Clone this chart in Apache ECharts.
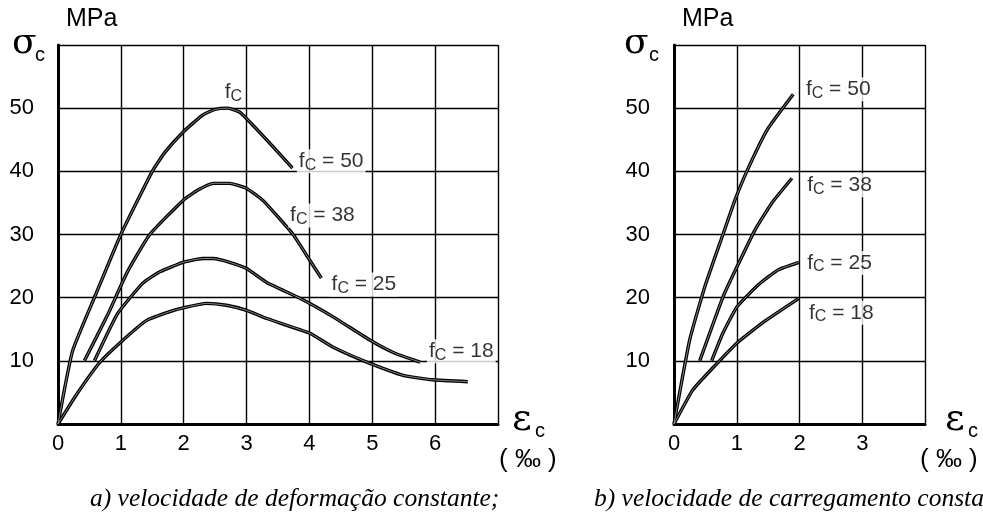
<!DOCTYPE html>
<html>
<head>
<meta charset="utf-8">
<script src="https://cdn.jsdelivr.net/npm/echarts@6/dist/echarts.min.js"></script>
<style>
  html, body { margin: 0; padding: 0; background: #fff; }
  #chart { width: 983px; height: 518px; }
</style>
</head>
<body>
<div id="chart"></div>
<script>
// curves: [strain ‰, stress MPa]
const leftFc50 = [[0,0],[0.23,11.5],[0.6,20.5],[1.0,30],[1.5,40],[1.7,43],[2.0,46.3],[2.3,48.9],[2.5,49.8],[2.7,50],[2.9,49.3],[3.3,45.2],[3.73,40.5]];
const leftFc38 = [[0.42,10],[0.8,17.5],[1.1,24],[1.46,30],[1.99,35.4],[2.22,37],[2.47,38.1],[2.73,38.1],[3.0,37.3],[3.26,35.4],[3.74,30],[4.0,26],[4.19,23.1]];
const leftFc25 = [[0.58,10],[0.95,17.5],[1.35,22.3],[1.62,24.1],[1.99,25.6],[2.3,26.2],[2.47,26.2],[2.73,25.6],[3.0,24.6],[3.32,22.4],[3.85,19.9],[4.37,17],[4.96,13.3],[5.36,11.2],[5.76,9.8]];
const leftFc18 = [[0,0],[0.29,4.6],[0.66,9.7],[0.98,12.8],[1.41,16.4],[1.78,17.8],[2.04,18.5],[2.36,19.1],[2.68,18.8],[3.0,18.0],[3.32,16.7],[4.0,14.4],[4.37,12.2],[4.96,9.6],[5.49,7.7],[5.96,7.0],[6.52,6.7]];

const rightFc50 = [[0,0],[0.25,13.3],[0.49,21.7],[0.78,30],[0.97,35.4],[1.16,40],[1.48,46.5],[1.9,52.2]];
const rightFc38 = [[0.41,10],[0.78,20.1],[1.0,24.8],[1.29,30.7],[1.56,35],[1.88,38.9]];
const rightFc25 = [[0.6,10],[0.78,14.4],[1.0,18.5],[1.34,22],[1.66,24.4],[1.99,25.6]];
const rightFc18 = [[0,0],[0.3,5.4],[0.62,8.9],[1.0,12.8],[1.42,16.1],[1.99,19.9]];

// curve labels: [x, y, text after "fC"]
const leftNotes = [[2.62,52.5,''],[3.8,41.6,' = 50'],[3.66,33,' = 38'],[4.32,22.1,' = 25'],[5.87,11.5,' = 18']];
const rightNotes = [[2.07,53,' = 50'],[2.09,37.8,' = 38'],[2.09,25.5,' = 25'],[2.12,17.6,' = 18']];

const yTicks = [0, 60, 10];   // min, max, step
const leftXMax = 7;
const rightXMax = 4;

const captionA = 'a) velocidade de deformação constante;';
const captionB = 'b) velocidade de carregamento constante.';

const sans = 'Liberation Sans';
const serif = 'Liberation Serif';
const greek = 'DejaVu Serif';

const chart = echarts.init(document.getElementById('chart'));

function xAxisFor(gi, max) {
    return {
        gridIndex: gi, type: 'value', min: 0, max: max, interval: 1,
        axisLine: { lineStyle: { color: '#000', width: 3 } },
        axisTick: { show: false },
        axisLabel: { color: '#000', fontSize: 22, fontFamily: sans, margin: 9, showMaxLabel: false },
        splitLine: { lineStyle: { color: '#000', width: 1.4 } }
    };
}

function yAxisFor(gi) {
    return {
        gridIndex: gi, type: 'value', min: yTicks[0], max: yTicks[1], interval: yTicks[2],
        axisLine: { lineStyle: { color: '#000', width: 3 } },
        axisTick: { show: false },
        axisLabel: { color: '#000', fontSize: 22, fontFamily: sans, margin: 24, showMinLabel: false, showMaxLabel: false },
        splitLine: { lineStyle: { color: '#000', width: 1.4 } }
    };
}

// each curve is a black stroke with a thin light core, like the scanned figure
function curve(data, gi) {
    return [{
        type: 'line', xAxisIndex: gi, yAxisIndex: gi, data: data,
        symbol: 'none', smooth: 0.15, z: 3,
        lineStyle: { color: '#000', width: 3.4 }
    }, {
        type: 'line', xAxisIndex: gi, yAxisIndex: gi, data: data,
        symbol: 'none', smooth: 0.15, z: 4,
        lineStyle: { color: '#fff', width: 0.8, opacity: 0.65 }
    }];
}

function notes(list, gi) {
    return {
        type: 'scatter', xAxisIndex: gi, yAxisIndex: gi, symbolSize: 0, z: 5,
        data: list.map(n => ({ value: [n[0], n[1]], tail: n[2] })),
        label: {
            show: true, position: 'right', distance: 0,
            backgroundColor: '#fff', padding: [0, 2],
            formatter: p => '{f|f}{s|C}' + (p.data.tail ? '{t|' + p.data.tail + '}' : ''),
            rich: {
                f: { fontSize: 21, fontFamily: sans, color: '#000', lineHeight: 24, verticalAlign: 'middle' },
                s: { fontSize: 16, fontFamily: sans, color: '#000', lineHeight: 13, verticalAlign: 'bottom' },
                t: { fontSize: 21, fontFamily: sans, color: '#000', lineHeight: 24, verticalAlign: 'middle' }
            }
        }
    };
}

function txt(x, y, text, size, family, italic) {
    return {
        type: 'text', x: x, y: y, z: 10,
        style: {
            text: text, fontSize: size, fontFamily: family, fill: '#000',
            fontStyle: italic ? 'italic' : 'normal', verticalAlign: 'middle'
        }
    };
}

const option = {
    animation: false,
    backgroundColor: '#fff',
    grid: [
        { left: 58, right: 485, top: 45, bottom: 94 },
        { left: 674, right: 58, top: 45, bottom: 94 }
    ],
    xAxis: [xAxisFor(0, leftXMax), xAxisFor(1, rightXMax)],
    yAxis: [yAxisFor(0), yAxisFor(1)],
    series: [].concat(
        curve(leftFc50, 0), curve(leftFc38, 0), curve(leftFc25, 0), curve(leftFc18, 0),
        curve(rightFc50, 1), curve(rightFc38, 1), curve(rightFc25, 1), curve(rightFc18, 1),
        [notes(leftNotes, 0), notes(rightNotes, 1)]
    ),
    graphic: [
        txt(66, 19, 'MPa', 25, sans),
        txt(12, 44, 'σ', 36, greek),
        txt(35, 55, 'c', 20, sans),
        txt(682, 19, 'MPa', 25, sans),
        txt(624, 44, 'σ', 36, greek),
        txt(649, 55, 'c', 20, sans),
        txt(512, 420, 'ε', 38, greek),
        txt(535, 431, 'c', 20, sans),
        txt(499, 460, '( ‰ )', 26, sans),
        txt(945, 420, 'ε', 38, greek),
        txt(968, 431, 'c', 20, sans),
        txt(920, 460, '( ‰ )', 26, sans),
        txt(90, 499, captionA, 25.5, serif, true),
        txt(594, 499, captionB, 25.5, serif, true)
    ]
};

chart.setOption(option);
</script>
</body>
</html>
